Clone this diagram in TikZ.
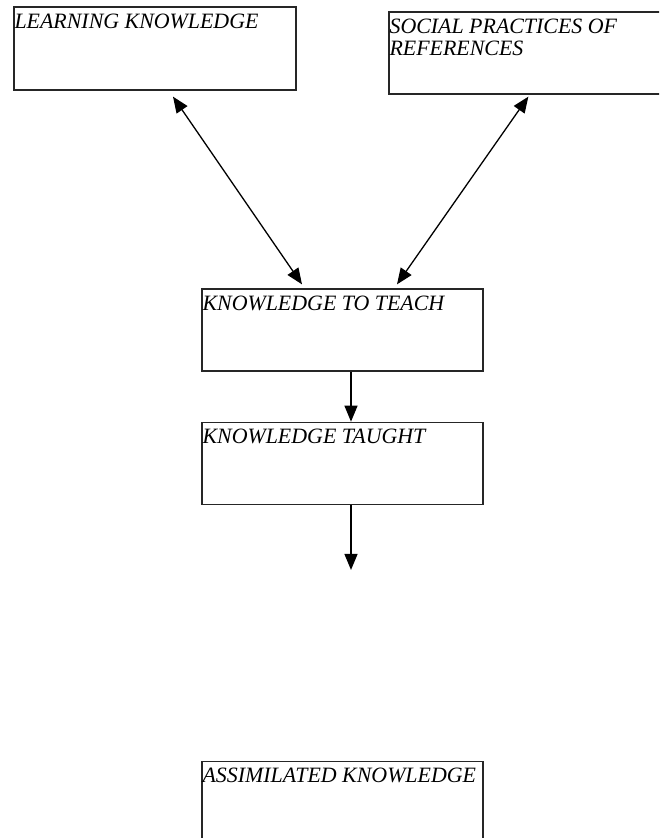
\documentclass[tikz,border=0pt]{standalone}
\usepackage{fontspec}
\setmainfont{Liberation Serif}
\usepackage{tikz}
\usetikzlibrary{arrows.meta,positioning}

\tikzset{
  stage/.style={draw, line width=1.3pt, draw=black!85, minimum width=281pt, minimum height=82pt, inner sep=0pt},
  stagetext/.style={anchor=north west, inner xsep=1pt, inner ysep=7pt, align=left,
    font=\fontsize{21.9}{22}\selectfont\itshape},
  flow/.style={line width=1.3pt, -{Triangle[length=16pt,width=13pt]}},
  bothflow/.style={line width=1.3pt, {Triangle[length=16pt,width=13pt]}-{Triangle[length=16pt,width=13pt]}}
}

\begin{document}
\begin{tikzpicture}[x=1pt, y=-1pt]
        \clip (0,0) rectangle (659,838);
        \node[stage] (LK) at (155,48.5) [minimum width=282pt, minimum height=83pt,
          label={[stagetext]north west:LEARNING KNOWLEDGE}] {};
        \node[stage] (SP) at (544,53) [minimum width=310pt,
          label={[stagetext]north west:SOCIAL PRACTICES OF\\REFERENCES}] {};
        \node[stage] (KTT) at (342.5,330) [label={[stagetext]north west:KNOWLEDGE TO TEACH}] {};
        \node[stage] (KT) [below = 50pt of KTT, label={[stagetext]north west:KNOWLEDGE TAUGHT}] {};
        \node[stage] (AK) [below = 256pt of KT, minimum height=83pt,
          label={[stagetext]north west:ASSIMILATED KNOWLEDGE}] {};
        \coordinate (end) at ([xshift=8.5pt, yshift=-65pt]KT.south);

        \draw[bothflow] ([shift={(18pt,-6pt)}]LK.south) -- ([shift={(-40.5pt,4pt)}]KTT.north);
        \draw[bothflow] ([shift={(140pt,-2pt)}]SP.south west) -- ([shift={(54.5pt,4pt)}]KTT.north);
        \draw[flow] ([xshift=8.5pt]KTT.south) -- ([xshift=8.5pt]KT.north);
        \draw[flow] ([xshift=8.5pt]KT.south) -- (end);
    \end{tikzpicture}
\end{document}
